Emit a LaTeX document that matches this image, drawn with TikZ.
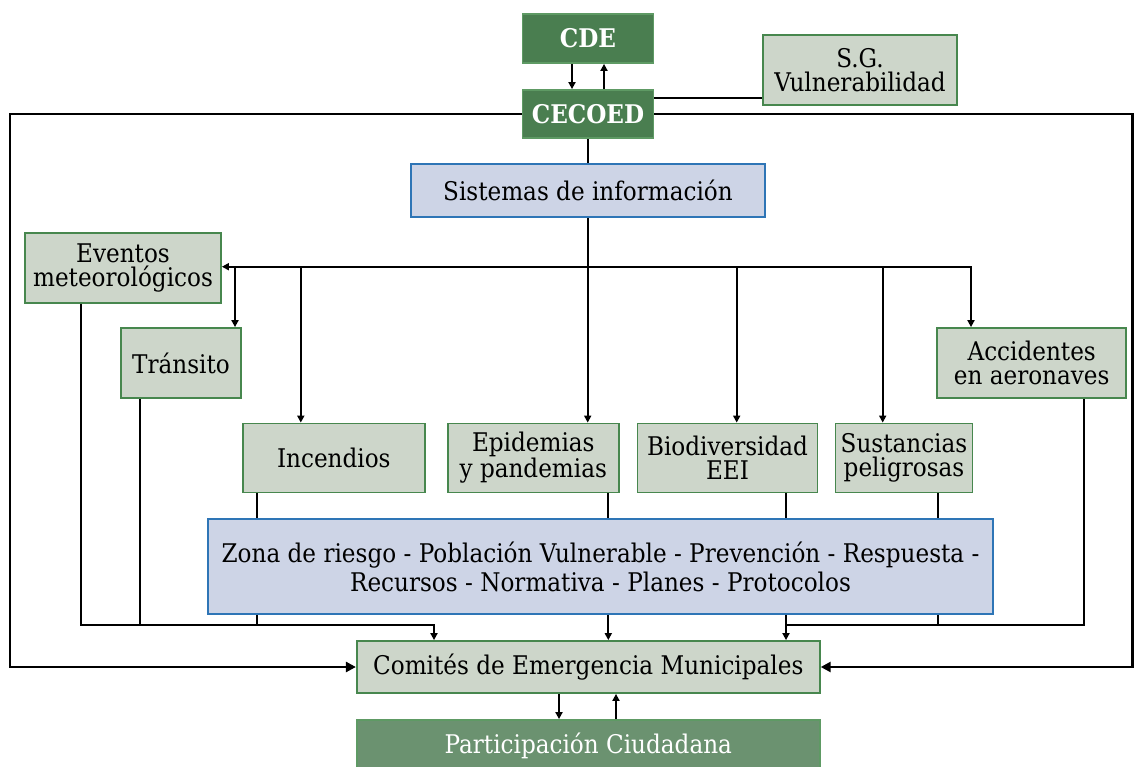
\documentclass[tikz,border=0pt]{standalone}
\usepackage{fontspec}
\setmainfont{DejaVu Serif}[FakeStretch=0.9]
\usetikzlibrary{arrows.meta}
\definecolor{gfill}{HTML}{CDD6CA}
\definecolor{gborder}{HTML}{47874E}
\definecolor{dgreen}{HTML}{4A7E50}
\definecolor{dgreenb}{HTML}{5E9A64}
\definecolor{pgreen}{HTML}{6B9270}
\definecolor{bfill}{HTML}{CDD4E6}
\definecolor{bborder}{HTML}{2E75B6}
\tikzset{
  base/.style={inner sep=0pt, align=center, font=\fontsize{25.7}{24}\selectfont, line width=1.8pt},
  lbox/.style={base, draw=gborder, fill=gfill},
  dbox/.style={base, draw=dgreenb, fill=dgreen, text=white, font=\fontsize{25.7}{24}\selectfont\bfseries},
  pbox/.style={base, draw=dgreenb, fill=pgreen, text=white},
  bbox/.style={base, draw=bborder, fill=bfill},
  conn/.style={line width=1.8pt},
  arr/.style={conn, -{Triangle[length=7pt,width=7pt]}},
  arrboth/.style={conn, {Triangle[length=7pt,width=7pt]}-{Triangle[length=7pt,width=7pt]}},
  bigline/.style={line width=2.8pt},
  bigarr/.style={bigline, -{Triangle[length=10pt,width=10pt]}}
}
\begin{document}
\begin{tikzpicture}[x=1pt,y=-1pt]
\useasboundingbox (0,0) rectangle (1134,767);
% nodes
\node[dbox, minimum width=131pt, minimum height=49pt] (cde) at (588,38.5) {CDE};
\node[dbox, minimum width=131pt, minimum height=48pt] (cecoed) at (588,114) {CECOED};
\node[lbox, minimum width=194pt, minimum height=70pt] (sg) at (860,70) {S.G.\\Vulnerabilidad};
\node[bbox, minimum width=354pt, minimum height=53pt] (sis) at (588,190.5) {Sistemas de información};
\node[lbox, minimum width=196pt, minimum height=70pt] (eventos) at (123,268) {Eventos\\meteorológicos};
\node[lbox, minimum width=120pt, minimum height=70pt] (transito) at (181,363) {Tránsito};
\node[lbox, minimum width=182pt, minimum height=69pt] (incendios) at (333.8,458) {Incendios};
\node[lbox, minimum width=171pt, minimum height=69pt] (epidemias) at (533.3,458) {Epidemias\\y pandemias};
\node[lbox, minimum width=180pt, minimum height=69pt] (bio) at (727.5,458) {Biodiversidad\\EEI};
\node[lbox, minimum width=137pt, minimum height=69pt] (sust) at (904,458) {Sustancias\\peligrosas};
\node[lbox, minimum width=189pt, minimum height=70pt] (acc) at (1031.7,363) {Accidentes\\en aeronaves};
\node[bbox, minimum width=785pt, minimum height=95pt, font=\fontsize{25.7}{29}\selectfont] (zona) at (600.5,566.5)
  {Zona de riesgo - Población Vulnerable - Prevención - Respuesta -\\Recursos - Normativa - Planes - Protocolos};
\node[lbox, minimum width=463pt, minimum height=52pt] (comites) at (588.3,667) {Comités de Emergencia Municipales};
\node[pbox, minimum width=463pt, minimum height=52pt] (part) at (588.3,746) {Participación Ciudadana};
% CDE <-> CECOED
\draw[arr] ([xshift=-16pt]cde.south) -- ([xshift=-16pt]cecoed.north);
\draw[arr] ([xshift=16pt]cecoed.north) -- ([xshift=16pt]cde.south);
% CECOED - S.G.
\coordinate (c1) at ([yshift=16pt]cecoed.east);
\draw[bigline] (c1) -- (c1 -| sg.west);
% big loop
\coordinate (L) at (10,114);
\coordinate (R) at (1132.5,114);
\draw[bigarr] (cecoed.west) -- (L) |- (comites.west);
\draw[bigarr] (cecoed.east) -- (R) |- (comites.east);
% CECOED - Sistemas
\draw[conn] (cecoed.south) -- (sis.north);
% hub
\coordinate (hub) at (588,266.7);
\draw[conn] (sis.south) -- (hub);
\coordinate (ta) at ([xshift=-60.7pt]acc.north);
\draw[arrboth] (eventos.east |- hub) -| (ta);
\coordinate (tt) at ([xshift=54pt]transito.north);
\draw[arr] (tt |- hub) -- (tt);
\coordinate (ti) at ([xshift=-33pt]incendios.north);
\draw[arr] (ti |- hub) -- (ti);
\coordinate (te) at ([xshift=54.4pt]epidemias.north);
\draw[arr] (te |- hub) -- (te);
\coordinate (tb) at ([xshift=9.2pt]bio.north);
\draw[arr] (tb |- hub) -- (tb);
\coordinate (ts) at ([xshift=-21.3pt]sust.north);
\draw[arr] (ts |- hub) -- (ts);
% bottom connections
\coordinate (bl) at ([xshift=-154.3pt]comites.north);
\coordinate (busL) at ([yshift=15pt]bl);
\coordinate (e0) at ([xshift=-42.3pt]eventos.south);
\draw[arr] (e0) |- (busL) -- (bl);
\coordinate (t1) at ([xshift=-41pt]transito.south);
\draw[conn] (t1) -- (t1 |- busL);
\coordinate (i1) at ([xshift=-77.2pt]incendios.south);
\draw[conn] (i1) -- (i1 |- zona.north);
\draw[conn] (i1 |- zona.south) -- (i1 |- busL);
\coordinate (p1) at ([xshift=75pt]epidemias.south);
\draw[conn] (p1) -- (p1 |- zona.north);
\draw[arr] (p1 |- zona.south) -- (p1 |- comites.north);
\coordinate (b1) at ([xshift=58.5pt]bio.south);
\draw[conn] (b1) -- (b1 |- zona.north);
\draw[arr] (b1 |- zona.south) -- (b1 |- comites.north);
\coordinate (busR) at (b1 |- busL);
\coordinate (s1) at ([xshift=33.7pt]sust.south);
\draw[conn] (s1) -- (s1 |- zona.north);
\draw[conn] (s1 |- zona.south) -- (s1 |- busL);
\coordinate (a1) at ([xshift=52.6pt]acc.south);
\draw[conn] (a1) |- (busR);
% Comites <-> Participacion
\draw[arr] ([xshift=-29.3pt]comites.south) -- ([xshift=-29.3pt]part.north);
\draw[arr] ([xshift=27.7pt]part.north) -- ([xshift=27.7pt]comites.south);
\end{tikzpicture}
\end{document}
